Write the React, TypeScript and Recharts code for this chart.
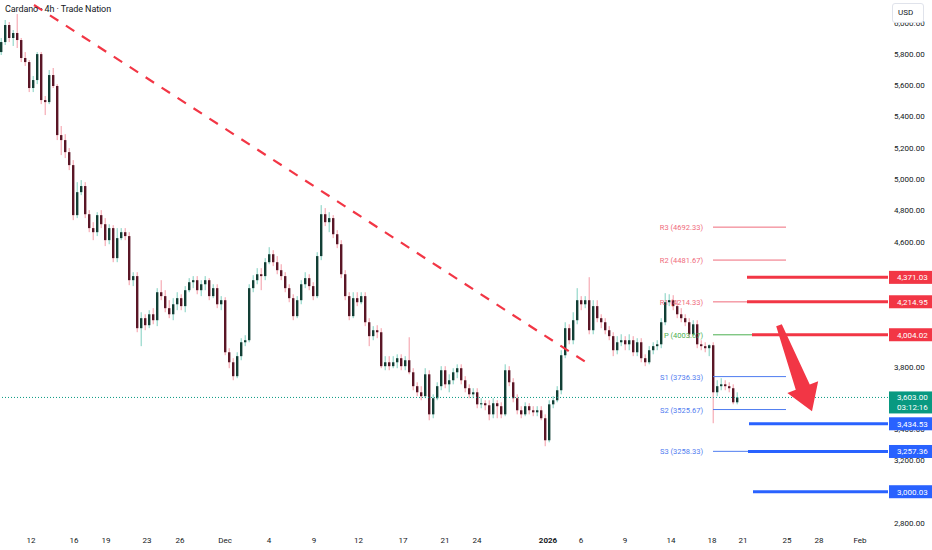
import { Bar, ComposedChart, ReferenceDot, ReferenceLine, XAxis, YAxis } from "recharts";

// 4h candles (oldest first)
const opens = [
  5812, 5876, 5985, 5902, 5934, 5889, 5774, 5748, 5582, 5633,
  5799, 5505, 5492, 5665, 5595, 5281, 5249, 5172, 5089, 4769,
  4916, 4955, 4775, 4686, 4660, 4769, 4711, 4609, 4686, 4494,
  4622, 4660, 4635, 4353, 4379, 4046, 4110, 4065, 4135, 4097,
  4276, 4251, 4174, 4135, 4199, 4238, 4187, 4289, 4340, 4353,
  4289, 4327, 4353, 4251, 4302, 4199, 4225, 3892, 3828, 3739,
  3867, 3956, 3969, 4302, 4353, 4391, 4379, 4468, 4519, 4468,
  4417, 4379, 4302, 4238, 4123, 4225, 4327, 4366, 4315, 4251,
  4507, 4775, 4724, 4750, 4647, 4583, 4391, 4251, 4123, 4238,
  4212, 4251, 4084, 3995, 4033, 4020, 3803, 3828, 3803, 3828,
  3854, 3803, 3841, 3764, 3675, 3636, 3611, 3751, 3495, 3598,
  3675, 3777, 3687, 3713, 3764, 3790, 3713, 3662, 3623, 3636,
  3559, 3566, 3553, 3495, 3566, 3547, 3495, 3777, 3700, 3598,
  3521, 3495, 3547, 3521, 3508, 3521, 3470, 3329, 3559, 3585,
  3649, 3873, 4046, 3969, 4097, 4225, 4199, 4225, 4033, 4187,
  4110, 4084, 4033, 3995, 3905, 3956, 3969, 3943, 3969, 3892,
  3956, 3854, 3828, 3905, 3931, 3943, 4084, 4212, 4225, 4187,
  4135, 4110, 4084, 4007, 4071, 3943, 3931, 3918, 3937, 3636,
  3675, 3687, 3675, 3662, 3572,
];
const highs = [
  5902, 6017, 6004, 5953, 6055, 5902, 5812, 5761, 5659, 5812,
  5812, 5531, 5697, 5710, 5607, 5339, 5287, 5198, 5121, 4980,
  4993, 4980, 4801, 4724, 4788, 4801, 4750, 4711, 4705, 4686,
  4686, 4686, 4660, 4404, 4404, 4148, 4135, 4161, 4174, 4302,
  4353, 4289, 4225, 4238, 4276, 4263, 4315, 4366, 4379, 4379,
  4353, 4379, 4366, 4327, 4327, 4251, 4244, 3918, 3854, 3892,
  3982, 4001, 4327, 4385, 4430, 4430, 4494, 4564, 4545, 4507,
  4455, 4404, 4327, 4263, 4251, 4353, 4404, 4391, 4340, 4532,
  4833, 4814, 4788, 4769, 4673, 4609, 4417, 4276, 4276, 4276,
  4276, 4276, 4110, 4059, 4065, 4046, 3867, 3867, 3867, 3879,
  3879, 3867, 3988, 3790, 3700, 3675, 3790, 3777, 3623, 3700,
  3803, 3803, 3751, 3790, 3815, 3815, 3739, 3687, 3662, 3662,
  3598, 3585, 3585, 3598, 3585, 3572, 3815, 3803, 3726, 3623,
  3547, 3572, 3566, 3547, 3547, 3547, 3495, 3585, 3611, 3675,
  3905, 4084, 4071, 4148, 4302, 4251, 4251, 4372, 4225, 4225,
  4135, 4110, 4059, 4020, 3995, 4007, 3995, 4007, 3995, 3982,
  3982, 3879, 3931, 3956, 3969, 4110, 4270, 4263, 4257, 4225,
  4174, 4135, 4110, 4097, 4097, 3969, 3956, 3943, 3956, 3713,
  3726, 3713, 3700, 3687, 3636,
];
const lows = [
  5793, 5857, 5876, 5851, 5838, 5748, 5723, 5556, 5556, 5607,
  5479, 5409, 5479, 5582, 5249, 5153, 5134, 5057, 4737, 4750,
  4897, 4750, 4660, 4609, 4635, 4686, 4571, 4583, 4468, 4468,
  4609, 4609, 4321, 4315, 4020, 3931, 4033, 4046, 4071, 4059,
  4225, 4148, 4110, 4097, 4161, 4161, 4148, 4276, 4302, 4263,
  4251, 4289, 4225, 4238, 4174, 4161, 3873, 3790, 3713, 3726,
  3841, 3931, 3956, 4276, 4327, 4289, 4353, 4455, 4443, 4391,
  4353, 4276, 4212, 4097, 4110, 4199, 4302, 4289, 4225, 4238,
  4481, 4699, 4660, 4622, 4558, 4366, 4225, 4097, 4110, 4187,
  4199, 4059, 3931, 3969, 3982, 3790, 3777, 3777, 3790, 3790,
  3777, 3777, 3751, 3649, 3611, 3585, 3598, 3457, 3470, 3585,
  3649, 3662, 3636, 3687, 3726, 3687, 3636, 3598, 3598, 3534,
  3534, 3521, 3457, 3470, 3470, 3470, 3483, 3675, 3572, 3495,
  3470, 3483, 3495, 3483, 3483, 3457, 3291, 3316, 3534, 3572,
  3623, 3854, 3943, 3943, 4071, 4161, 4174, 4007, 4007, 4084,
  4046, 4007, 3969, 3867, 3879, 3931, 3905, 3905, 3867, 3867,
  3828, 3803, 3815, 3879, 3905, 3918, 4065, 4187, 4161, 4110,
  4084, 4059, 3982, 3995, 3918, 3905, 3892, 3867, 3438, 3611,
  3649, 3649, 3636, 3559, 3559,
];
const closes = [
  5876, 5985, 5902, 5934, 5889, 5774, 5748, 5582, 5633, 5799,
  5505, 5492, 5665, 5595, 5281, 5249, 5172, 5089, 4769, 4916,
  4955, 4775, 4686, 4660, 4769, 4711, 4609, 4686, 4494, 4622,
  4660, 4635, 4353, 4379, 4046, 4110, 4065, 4135, 4097, 4276,
  4251, 4174, 4135, 4199, 4238, 4187, 4289, 4340, 4353, 4289,
  4327, 4353, 4251, 4302, 4199, 4225, 3892, 3828, 3739, 3867,
  3956, 3969, 4302, 4353, 4391, 4379, 4468, 4519, 4468, 4417,
  4379, 4302, 4238, 4123, 4225, 4327, 4366, 4315, 4251, 4507,
  4775, 4724, 4750, 4647, 4583, 4391, 4251, 4123, 4238, 4212,
  4251, 4084, 3995, 4033, 4020, 3803, 3828, 3803, 3828, 3854,
  3803, 3841, 3764, 3675, 3636, 3611, 3751, 3495, 3598, 3675,
  3777, 3687, 3713, 3764, 3790, 3713, 3662, 3623, 3636, 3559,
  3566, 3553, 3495, 3566, 3547, 3495, 3777, 3700, 3598, 3521,
  3495, 3547, 3521, 3508, 3521, 3470, 3329, 3559, 3585, 3649,
  3873, 4046, 3969, 4097, 4225, 4199, 4225, 4033, 4187, 4110,
  4084, 4033, 3995, 3905, 3956, 3969, 3943, 3969, 3892, 3956,
  3854, 3828, 3905, 3931, 3943, 4084, 4212, 4225, 4187, 4135,
  4110, 4084, 4007, 4071, 3943, 3931, 3918, 3937, 3636, 3675,
  3687, 3675, 3662, 3572, 3603,
];

const priceTicks = [2800, 3000, 3200, 3400, 3600, 3800, 4000, 4200, 4400, 4600, 4800, 5000, 5200, 5400, 5600, 5800, 6000];
const dateTickPos = [7.5, 18.25, 26.25, 36.5, 44.75, 56, 67, 78.25, 89.4, 100.5, 111, 119, 136.75, 145, 156, 167.5, 177.75, 185.5, 196.5, 204.5, 214.75];
const dateTickLabels = ["12", "16", "19", "23", "26", "Dec", "4", "9", "12", "17", "21", "24", "2026", "6", "9", "14", "18", "21", "25", "28", "Feb"];

const pivotNames = ["R3", "R2", "R1", "P", "S1", "S2", "S3"];
const pivotValues = [4692.33, 4481.67, 4214.33, 4003.67, 3736.33, 3525.67, 3258.33];
const resistanceLevels = [4371.03, 4214.95, 4004.02];
const supportLevels = [3434.53, 3257.36, 3000.03];
const lastPrice = 3603.0;
const countdown = "03:12:16";

const X_MIN = -0.25;
const X_MAX = 221.75;
const FONT = "Roboto, 'Noto Sans', sans-serif";
const RED = "#f23645";
const BLUE = "#2962ff";
const GREEN = "#089981";

const candles = closes.map((c, i) => ({
  i,
  o: opens[i],
  h: highs[i],
  l: lows[i],
  c,
  range: [lows[i], highs[i]],
}));

// price labels that a level box sits right on top of are not drawn (as on the platform)
const boxedLevels = [...resistanceLevels, ...supportLevels, lastPrice];
const shownTicks = priceTicks.filter((t) => boxedLevels.every((v) => Math.abs(v - t) > 20));

const fmt = (v: number) =>
  v.toLocaleString("en-US", { minimumFractionDigits: 2, maximumFractionDigits: 2 });

function Candle(props: any) {
  const { x, y, width, height, payload } = props;
  if (!payload) return null;
  const { o, h, l, c } = payload;
  const top = Math.min(y, y + height);
  const span = Math.abs(height);
  const py = (v: number) => (h === l ? top : top + ((h - v) / (h - l)) * span);
  const up = c >= o;
  const cx = x + width / 2;
  const bTop = py(Math.max(o, c));
  const bBot = py(Math.min(o, c));
  return (
    <g>
      <line x1={cx} x2={cx} y1={top} y2={top + span} stroke={up ? "#7fcfbf" : "#f49aa6"} strokeWidth={1} />
      <rect x={x} y={bTop} width={width} height={Math.max(1, bBot - bTop)} fill={up ? "#123f35" : "#5a1626"} />
    </g>
  );
}

// tapered arrow drawn between the two ends of a segment
function Arrow(props: any) {
  const { x1, y1, x2, y2 } = props;
  const dx = x2 - x1;
  const dy = y2 - y1;
  const len = Math.hypot(dx, dy) || 1;
  const ux = dx / len;
  const uy = dy / len;
  const nx = -uy;
  const ny = ux;
  const at = (t: number, w: number) => `${x1 + ux * t + nx * w},${y1 + uy * t + ny * w}`;
  const hb = len * 0.72;
  const pts = [at(0, 3), at(hb, 7.5), at(hb, 16.5), `${x2},${y2}`, at(hb, -16.5), at(hb, -7.5), at(0, -3)].join(" ");
  return <polygon points={pts} fill={RED} />;
}

const axisTick = (text: string) => (p: any) => (
  <text x={p.cx + 6} y={p.cy + 3} fill="#131722" fontSize={8} fontFamily={FONT}>
    {text}
  </text>
);

const axisBox = (text: string, fill: string, sub?: string) => (p: any) => {
  const x = p.cx + 1;
  const y = p.cy;
  if (sub) {
    return (
      <g>
        <rect x={x} y={y - 6} width={43} height={22} fill={fill} />
        <text x={x + 8} y={y + 3} fill="#fff" fontSize={8} fontFamily={FONT}>{text}</text>
        <text x={x + 8} y={y + 13} fill="#fff" fontSize={8} fontFamily={FONT}>{sub}</text>
      </g>
    );
  }
  return (
    <g>
      <rect x={x} y={y - 6.5} width={43} height={13} fill={fill} />
      <text x={x + 8} y={y + 3} fill="#fff" fontSize={8} fontFamily={FONT}>{text}</text>
    </g>
  );
};

const pivotLabel = (text: string, color: string) => (p: any) => (
  <text x={p.cx - 10} y={p.cy + 3} textAnchor="end" fill={color} fontSize={7.5} fontFamily={FONT}>
    {text}
  </text>
);

const pivotColor = (name: string) => (name.startsWith("R") ? "#ef6b7b" : name === "P" ? "#4caf50" : "#4f7cf0");

export default function App() {
  return (
    <div style={{ position: "relative", width: 932, height: 550, background: "#fff" }}>
      <style>{"body{margin:0}"}</style>
      <ComposedChart width={932} height={550} data={candles} margin={{ top: 0, right: 0, bottom: 0, left: 0 }}>
        <XAxis
          dataKey="i"
          type="number"
          domain={[X_MIN, X_MAX]}
          allowDataOverflow
          ticks={dateTickPos}
          interval={0}
          height={22}
          axisLine={false}
          tickLine={false}
          tick={(p: any) => {
            const idx = dateTickPos.indexOf(p.payload.value);
            const label = dateTickLabels[idx] ?? "";
            return (
              <text
                x={p.x}
                y={543}
                textAnchor="middle"
                fill="#131722"
                fontSize={8}
                fontWeight={label === "2026" ? 700 : 400}
                fontFamily={FONT}
              >
                {label}
              </text>
            );
          }}
        />
        <YAxis
          orientation="right"
          type="number"
          domain={[2768, 6145]}
          allowDataOverflow
          ticks={priceTicks}
          width={44}
          axisLine={false}
          tickLine={false}
          tick={false}
        />
        <Bar dataKey="range" barSize={2.4} shape={Candle} isAnimationActive={false} />
        <ReferenceLine
          segment={[{ x: 8.25, y: 6113 }, { x: 146.25, y: 3828 }]}
          stroke={RED}
          strokeWidth={2.2}
          strokeDasharray="10 9"
          ifOverflow="visible"
        />
        <ReferenceLine y={lastPrice} stroke={GREEN} strokeDasharray="1 2" strokeWidth={1} ifOverflow="visible" />
        {pivotValues.map((v, k) => (
          <ReferenceLine
            key={`pv${k}`}
            segment={[{ x: 178, y: v }, { x: 196.25, y: v }]}
            stroke={pivotColor(pivotNames[k])}
            strokeWidth={1}
            ifOverflow="visible"
          />
        ))}
        {pivotValues.map((v, k) => (
          <ReferenceDot
            key={`pl${k}`}
            x={178}
            y={v}
            ifOverflow="visible"
            shape={pivotLabel(`${pivotNames[k]} (${v.toFixed(2)})`, pivotColor(pivotNames[k]))}
          />
        ))}
        {resistanceLevels.map((v, k) => (
          <ReferenceLine
            key={`rl${k}`}
            segment={[{ x: [186.5, 186.5, 187.75][k], y: v }, { x: X_MAX, y: v }]}
            stroke={RED}
            strokeWidth={3}
            ifOverflow="visible"
          />
        ))}
        {supportLevels.map((v, k) => (
          <ReferenceLine
            key={`sl${k}`}
            segment={[{ x: [187, 186.75, 188][k], y: v }, { x: X_MAX, y: v }]}
            stroke={BLUE}
            strokeWidth={3}
            ifOverflow="visible"
          />
        ))}
        <ReferenceLine
          segment={[{ x: 194.5, y: 4065 }, { x: 202.75, y: 3515 }]}
          ifOverflow="visible"
          shape={Arrow}
        />
        {shownTicks.map((v) => (
          <ReferenceDot key={`t${v}`} x={X_MAX} y={v} ifOverflow="visible" shape={axisTick(fmt(v))} />
        ))}
        {resistanceLevels.map((v, k) => (
          <ReferenceDot key={`rb${k}`} x={X_MAX} y={v} ifOverflow="visible" shape={axisBox(fmt(v), RED)} />
        ))}
        {supportLevels.map((v, k) => (
          <ReferenceDot key={`sb${k}`} x={X_MAX} y={v} ifOverflow="visible" shape={axisBox(fmt(v), BLUE)} />
        ))}
        <ReferenceDot x={X_MAX} y={lastPrice} ifOverflow="visible" shape={axisBox(fmt(lastPrice), GREEN, countdown)} />
      </ComposedChart>
      <div
        style={{
          position: "absolute",
          left: 5,
          top: 4,
          fontFamily: FONT,
          fontSize: 9,
          color: "#131722",
          letterSpacing: -0.1,
        }}
      >
        Cardano · 4h · Trade Nation
      </div>
      <div
        style={{
          position: "absolute",
          left: 892,
          top: 3,
          width: 32,
          height: 20,
          boxSizing: "border-box",
          border: "1px solid #e0e3eb",
          borderRadius: 3,
          background: "#fff",
          fontFamily: FONT,
          fontSize: 8,
          color: "#131722",
          lineHeight: "17px",
          paddingLeft: 5,
        }}
      >
        USD
      </div>
    </div>
  );
}
